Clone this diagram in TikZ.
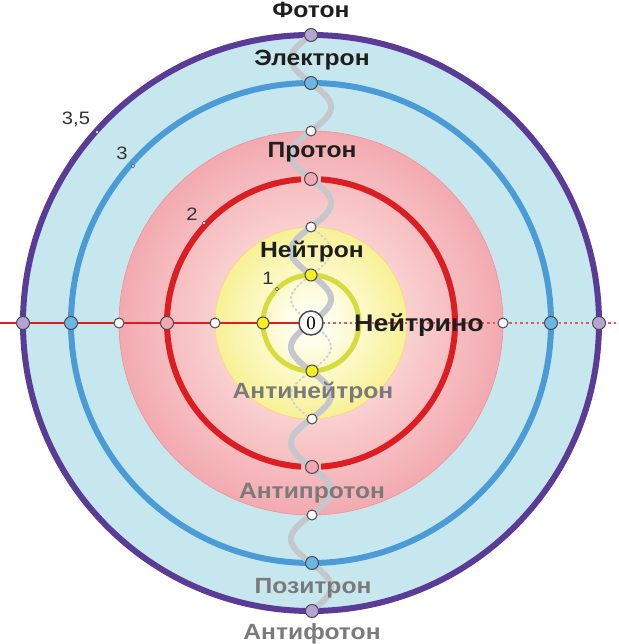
\documentclass[tikz,border=0pt]{standalone}
\usepackage{fontspec}
\setmainfont{Liberation Sans}
\newfontfamily\labfont[FakeStretch=1.12]{Liberation Sans}
\newfontfamily\zerofont{Liberation Serif}
\definecolor{bgblue}{HTML}{C6E7EE}
\definecolor{purp}{HTML}{5A3C96}
\definecolor{lblue}{HTML}{4B9BD7}
\definecolor{ored}{HTML}{DC1E23}
\definecolor{ygreen}{HTML}{D7DC3C}
\definecolor{pinkout}{HTML}{F2AAB0}
\definecolor{pinkin}{HTML}{FAD0D0}
\definecolor{yelout}{HTML}{F7F195}
\definecolor{yelin}{HTML}{FFFEEC}
\definecolor{lav}{HTML}{B4A4D4}
\definecolor{dotblue}{HTML}{6CB6E6}
\definecolor{dotpink}{HTML}{F0A8B4}
\definecolor{dotyel}{HTML}{F6EE1E}
\definecolor{wavegray}{HTML}{C4C8CC}
\definecolor{labgray}{HTML}{7A7A7A}
\definecolor{labblack}{HTML}{1E1E1E}
\pgfdeclareradialshading{pinkshade}{\pgfpoint{0bp}{0bp}}{color(0bp)=(pinkin); color(12.5bp)=(pinkin); color(25bp)=(pinkout); color(50bp)=(pinkout)}
\pgfdeclareradialshading{yelshade}{\pgfpoint{0bp}{0bp}}{color(0bp)=(yelin); color(5bp)=(yelin); color(25bp)=(yelout); color(50bp)=(yelout)}
\begin{document}
\begin{tikzpicture}[x=1pt,y=-1pt,
  dot/.style={circle, draw=black!70, line width=1pt, inner sep=0pt},
  ring/.style={line width=6pt},
  lab/.style={font=\labfont\fontsize{22}{24}\selectfont\bfseries, text=labblack, inner sep=0pt, anchor=base},
  alab/.style={lab, text=labgray},
  num/.style={font=\labfont\fontsize{18}{20}\selectfont, text=black!80, inner sep=0pt, anchor=base},
  tickmark/.style={circle, draw=black!75, fill=white, line width=0.6pt, minimum size=3.5pt, inner sep=0pt}]
\useasboundingbox (0,0) rectangle (618,644);
\fill[white] (0,0) rectangle (618,644);
\coordinate (O) at (311,323);
% discs
\fill[bgblue] (O) circle[radius=288pt];
\shade[shading=pinkshade] (O) circle[radius=192pt];
\draw[pinkout!85!red, line width=0.6pt] (O) circle[radius=192pt];
\shade[shading=yelshade] (O) circle[radius=96pt];
\draw[yelout!75!orange, line width=0.5pt] (O) circle[radius=96pt];
% rings
\draw[purp, ring] (O) circle[radius=288pt];
\draw[lblue, ring] (O) circle[radius=240pt];
\draw[ored, ring] (O) ++(94:144pt) arc[start angle=94, end angle=266, radius=144pt];
\draw[ored, ring] (O) ++(274:144pt) arc[start angle=274, end angle=446, radius=144pt];
\draw[ygreen, line width=5pt] (O) circle[radius=48pt];
% horizontal axis
\coordinate (L) at (0,323);
\coordinate (R) at (618,323);
\draw[ored, line width=2pt] (L) -- (O);
\draw[ored!75!white, line width=2.2pt, dash pattern=on 2.5pt off 3pt] (O) -- (R);
% waves
\draw[wavegray, line width=6pt] plot[domain=35:611, samples=400] ({311-20*sin(3.75*(\x-35))}, \x);
\draw[black!18, line width=2pt, dash pattern=on 1.5pt off 3pt, line cap=round] plot[domain=227:419, samples=150] ({311+20*sin(3.75*(\x-35))}, \x);
% dots
\foreach \k/\c/\s in {1/dotyel/12pt,2/white/10pt,3/dotpink/13pt,4/white/10pt,5/dotblue/13pt,6/lav/13pt} {
  \node[dot, fill=\c, minimum size=\s] (t\k) at (311,323-48*\k) {};
  \node[dot, fill=\c, minimum size=\s] (b\k) at (312,323+48*\k) {};
  \node[dot, fill=\c, minimum size=\s] (l\k) at (311-48*\k,323) {};
}
\foreach \k/\c/\s in {4/white/10pt,5/dotblue/13pt,6/lav/13pt} {
  \node[dot, fill=\c, minimum size=\s] (r\k) at (311+48*\k,323) {};
}
\node[circle, draw=black!70, line width=1.5pt, fill=white, minimum size=24pt, inner sep=0pt, font=\zerofont\fontsize{19}{19}\selectfont] (c0) at (O) {0};
% labels
\node[lab] (foton) at (311,18) {Фотон};
\node[lab] (elec) at (312,66) {Электрон};
\node[lab] (prot) at (312,158) {Протон};
\node[lab] (neut) at (312,257) {Нейтрон};
\node[lab, font=\labfont\fontsize{24}{26}\selectfont\bfseries] (nu) at (419,331) {Нейтрино};
\node[alab] (aneut) at (313,398) {Антинейтрон};
\node[alab] (aprot) at (312,498) {Антипротон};
\node[alab] (pos) at (313,593) {Позитрон};
\node[alab] (afot) at (312,639) {Антифотон};
% radius marks
\node[tickmark] (m35) at (97,132) {};
\node[tickmark] (m3) at (133,166) {};
\node[tickmark] (m2) at (204,223) {};
\node[tickmark] (m1) at (277,289) {};
\node[num] (n35) at (76,125) {3,5};
\node[num] (n3) at (122,160) {3};
\node[num] (n2) at (192,220) {2};
\node[num] (n1) at (268,284) {1};
\end{tikzpicture}
\end{document}
